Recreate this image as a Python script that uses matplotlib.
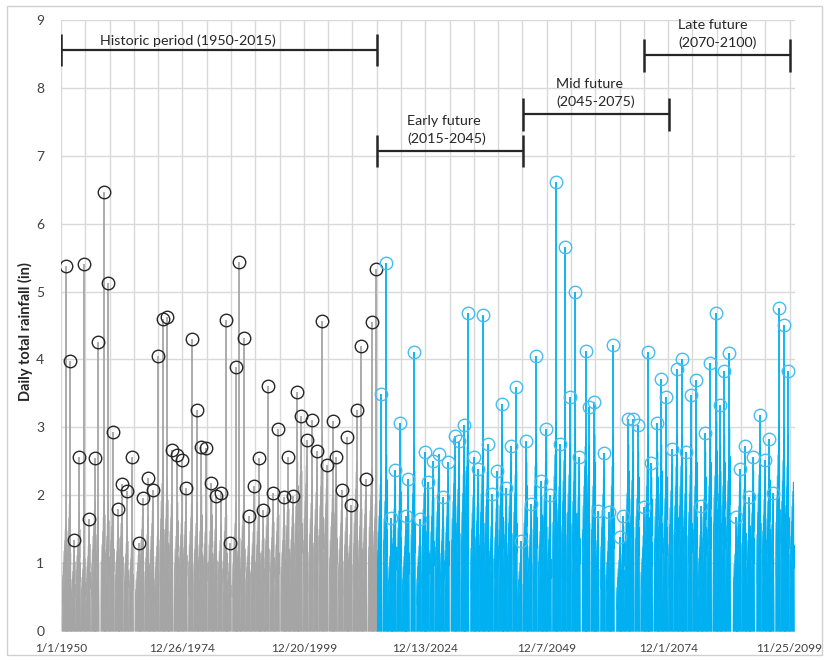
import matplotlib
matplotlib.use("Agg")
import matplotlib.pyplot as plt
import matplotlib.dates as mdates
from matplotlib.patches import Rectangle
from datetime import datetime
import numpy as np

plt.rcParams['font.family'] = ['Lato', 'DejaVu Sans']

# ---------------- data ----------------
hist_start_year = 1950
fut_start_year = 2015

# annual maximum daily rainfall (in), historic 1950-2014
hist_max = [5.38, 3.97, 1.34, 2.57, 5.40, 1.65, 2.55, 4.25, 6.47, 5.12,
            2.93, 1.80, 2.17, 2.06, 2.56, 1.30, 1.96, 2.26, 2.07, 4.05,
            4.60, 4.63, 2.67, 2.59, 2.52, 2.10, 4.30, 3.26, 2.71, 2.70,
            2.18, 1.99, 2.03, 4.58, 1.29, 3.89, 5.44, 4.31, 1.69, 2.13,
            2.55, 1.78, 3.61, 2.04, 2.97, 1.98, 2.56, 1.99, 3.52, 3.16,
            2.82, 3.11, 2.65, 4.56, 2.44, 3.10, 2.57, 2.07, 2.86, 1.86,
            3.26, 4.20, 2.24, 4.55, 5.33]
# fraction of the year at which the annual maximum occurred
hist_peak_frac = [0.95, 0.79, 0.73, 0.76, 0.79, 0.82, 0.93, 0.55, 0.90, 0.73,
                  0.69, 0.78, 0.54, 0.63, 0.66, 0.96, 0.80, 0.89, 0.86, 0.88,
                  0.96, 0.86, 0.76, 0.96, 0.80, 0.70, 0.88, 0.95, 0.89, 0.82,
                  0.96, 0.87, 0.90, 0.96, 0.75, 0.96, 0.66, 0.63, 0.66, 0.69,
                  0.72, 0.60, 0.57, 0.66, 0.68, 0.92, 0.74, 0.64, 0.63, 0.41,
                  0.52, 0.61, 0.64, 0.73, 0.64, 0.87, 0.61, 0.72, 0.81, 0.63,
                  0.80, 0.75, 0.66, 0.89, 0.71]
# upper level of the dense wet-season daily rainfall of each year (in)
hist_wet = [1.6, 2.0, 1.2, 1.75, 1.25, 1.5, 1.9, 1.7, 2.0, 1.9,
            2.1, 1.6, 1.9, 1.55, 1.45, 1.2, 1.8, 1.7, 1.9, 1.5,
            2.6, 2.25, 2.0, 1.9, 1.7, 1.95, 2.0, 1.9, 2.0, 1.75,
            2.0, 1.8, 1.6, 2.0, 1.2, 1.9, 1.6, 2.1, 1.5, 1.75,
            2.0, 1.6, 2.1, 1.9, 2.0, 1.85, 2.1, 1.85, 2.5, 2.75,
            2.6, 2.25, 2.5, 2.9, 2.3, 2.1, 2.4, 1.95, 2.0, 1.7,
            2.5, 2.1, 2.1, 2.4, 2.0]

# annual maximum daily rainfall (in), future 2015-2099
fut_max = [3.49, 5.42, 1.66, 2.37, 3.06, 1.70, 2.24, 4.11, 1.65, 2.64,
           2.20, 2.51, 2.60, 1.98, 2.49, 2.87, 2.80, 3.03, 4.68, 2.57,
           2.39, 4.66, 2.76, 2.02, 2.36, 3.35, 2.11, 2.72, 3.59, 1.33,
           2.80, 1.87, 4.05, 2.21, 2.98, 2.00, 6.61, 2.76, 5.65, 3.44,
           5.00, 2.57, 4.13, 3.30, 3.37, 1.77, 2.62, 1.75, 4.22, 1.39,
           1.69, 3.13, 3.13, 3.03, 1.83, 4.11, 2.47, 3.07, 3.71, 3.45,
           2.68, 3.86, 4.01, 2.63, 3.48, 3.70, 1.84, 2.92, 3.95, 4.68,
           3.33, 3.83, 4.10, 1.68, 2.39, 2.73, 1.97, 2.57, 3.18, 2.52,
           2.83, 2.04, 4.76, 4.51, 3.83]
fut_peak_frac = [0.74, 0.95, 0.96, 0.72, 0.81, 0.88, 0.42, 0.65, 0.82, 0.85,
                 0.53, 0.56, 0.67, 0.61, 0.64, 0.96, 0.84, 0.96, 0.63, 0.93,
                 0.81, 0.78, 0.74, 0.63, 0.72, 0.75, 0.57, 0.54, 0.63, 0.59,
                 0.76, 0.65, 0.74, 0.85, 0.73, 0.62, 0.79, 0.61, 0.64, 0.67,
                 0.76, 0.58, 0.90, 0.57, 0.75, 0.43, 0.66, 0.75, 0.57, 0.95,
                 0.71, 0.74, 0.62, 0.79, 0.96, 0.77, 0.47, 0.70, 0.52, 0.55,
                 0.64, 0.73, 0.70, 0.52, 0.61, 0.72, 0.67, 0.57, 0.60, 0.83,
                 0.61, 0.48, 0.51, 0.96, 0.62, 0.71, 0.62, 0.44, 0.78, 0.83,
                 0.73, 0.41, 0.70, 0.73, 0.56, 0.60]   # last frac: 2100
fut_wet = [2.3, 2.6, 1.5, 2.15, 2.4, 1.5, 2.0, 2.75, 1.5, 2.5,
           2.0, 2.3, 2.4, 1.8, 2.3, 2.6, 2.5, 2.75, 2.9, 2.4,
           2.2, 2.75, 2.5, 1.85, 2.2, 2.9, 1.95, 2.5, 2.75, 1.2,
           2.5, 1.7, 2.9, 2.0, 2.65, 1.85, 3.1, 2.6, 3.0, 2.75,
           3.0, 2.4, 2.9, 2.75, 2.9, 1.6, 2.45, 1.6, 2.9, 1.25,
           1.55, 2.75, 2.65, 2.65, 1.7, 2.9, 2.3, 2.65, 2.75, 2.65,
           2.5, 2.9, 2.9, 2.5, 2.75, 2.9, 1.7, 2.65, 2.9, 3.1,
           2.75, 2.9, 3.0, 1.55, 2.25, 2.5, 1.85, 2.4, 2.75, 2.4,
           2.6, 1.9, 3.1, 3.0, 2.9, 2.2]   # last value: 2100

tick_labels = ['1/1/1950', '12/26/1974', '12/20/1999', '12/13/2024',
               '12/7/2049', '12/1/2074', '11/25/2099']

periods = ['Historic period (1950-2015)', 'Early future\n(2015-2045)',
           'Mid future\n(2045-2075)', 'Late future\n(2070-2100)']
period_years = [(1950, 2015), (2015, 2045), (2045, 2075), (2070, 2100)]

# ---------------- styling ----------------
GRAY = '#A5A5A5'
BLUE = '#00B0F0'
GRID = '#D9D9D9'

W, H = 826, 660
fig = plt.figure(figsize=(W / 100, H / 100), dpi=100)
ax = fig.add_axes([61 / W, 1 - 631 / H, (795 - 61) / W, (631 - 20) / H])

base = mdates.date2num(datetime(1950, 1, 1))


def ydate(year, frac):
    return mdates.date2num(datetime(year, 1, 1)) + frac * 365.0


# shape of a wet season around its peak (time in years, height relative)
hump_t = np.array([-0.84, -0.78, -0.71, -0.64, -0.57, -0.50, -0.43, -0.36, -0.30,
                   -0.23, -0.17, -0.11, -0.06, -0.02, 0.0, 0.03, 0.07, 0.11,
                   0.15, 0.19, 0.23])
hump_h = np.array([0.0, 0.52, 0.26, 0.64, 0.36, 0.74, 0.44, 0.84, 0.52,
                   0.94, 0.58, 1.0, 0.62, 0.88, 1.0, 0.62, 0.86, 0.42,
                   0.58, 0.28, 0.0])


def draw_series(start_year, maxes, fracs, wets, color, edge):
    for i in range(len(wets)):
        top = wets[i] if i >= len(maxes) else min(wets[i], 0.92 * maxes[i])
        t = ydate(start_year + i, fracs[i]) + hump_t * 365.0
        ax.fill_between(t, 0, hump_h * top, color=color, lw=0.3,
                        edgecolor=color, zorder=2)
    xs = [ydate(start_year + i, fracs[i]) for i in range(len(maxes))]
    ax.vlines(xs, 0, maxes, color=color, lw=1.3, zorder=3)
    ax.plot(xs, maxes, ls='none', marker='o', ms=9, mfc='none',
            mec=edge, mew=1.0, zorder=4)


draw_series(hist_start_year, hist_max, hist_peak_frac, hist_wet, GRAY, '#262626')
draw_series(fut_start_year, fut_max, fut_peak_frac, fut_wet, BLUE, '#45BDF0')

# axes
ax.set_ylim(0, 9)
ax.set_xlim(base, mdates.date2num(datetime(2101, 1, 1)))
ax.set_yticks(range(0, 10))
ax.set_xticks([base + 9125 * k for k in range(len(tick_labels))])
ax.set_xticklabels(tick_labels)
ax.set_xticks([base + 1825 * k for k in range(31)], minor=True)
ax.tick_params(axis='both', which='both', length=0, labelsize=8.6, colors='#404040')
ax.tick_params(axis='x', pad=9)
ax.tick_params(axis='y', labelsize=10, pad=12)
ax.grid(axis='y', which='major', color=GRID, lw=1.0, zorder=0)
ax.grid(axis='x', which='both', color=GRID, lw=1.0, zorder=0)
ax.set_axisbelow(True)
for s in ax.spines.values():
    s.set_visible(False)
ax.set_ylabel('Daily total rainfall (in)', fontsize=10.5, fontweight='bold',
              color='#262626')
ax.yaxis.set_label_coords(-0.038, 0.49)

# period brackets
levels = [8.56, 7.07, 7.61, 8.48]
text_pos = [(1976.0, 'center', 8.70), (2021.2, 'left', 7.38),
            (2051.9, 'left', 7.92), (2077.0, 'left', 8.79)]
for label, (y0, y1), lev, (tx, ha, ty) in zip(periods, period_years, levels, text_pos):
    x0 = mdates.date2num(datetime(y0, 1, 1))
    x1 = mdates.date2num(datetime(y1, 1, 1))
    ax.plot([x0, x1], [lev, lev], color='#262626', lw=1.6, zorder=5, solid_capstyle='butt')
    for xx in (x0, x1):
        ax.plot([xx, xx], [lev - 0.24, lev + 0.24], color='#262626', lw=1.8, zorder=5,
                solid_capstyle='butt')
    txd = mdates.date2num(datetime(int(tx), 1, 1)) + (tx - int(tx)) * 365
    ax.text(txd, ty, label, ha=ha, va='center', fontsize=10.3, color='#262626',
            linespacing=1.5, zorder=6)

# outer border
fig.patches.append(Rectangle((7 / W, 1 - 655 / H), (822 - 7) / W, (655 - 6) / H,
                             transform=fig.transFigure, fill=False,
                             edgecolor='#D0D0D0', lw=1.0))

fig.savefig('out.png', dpi=100)
